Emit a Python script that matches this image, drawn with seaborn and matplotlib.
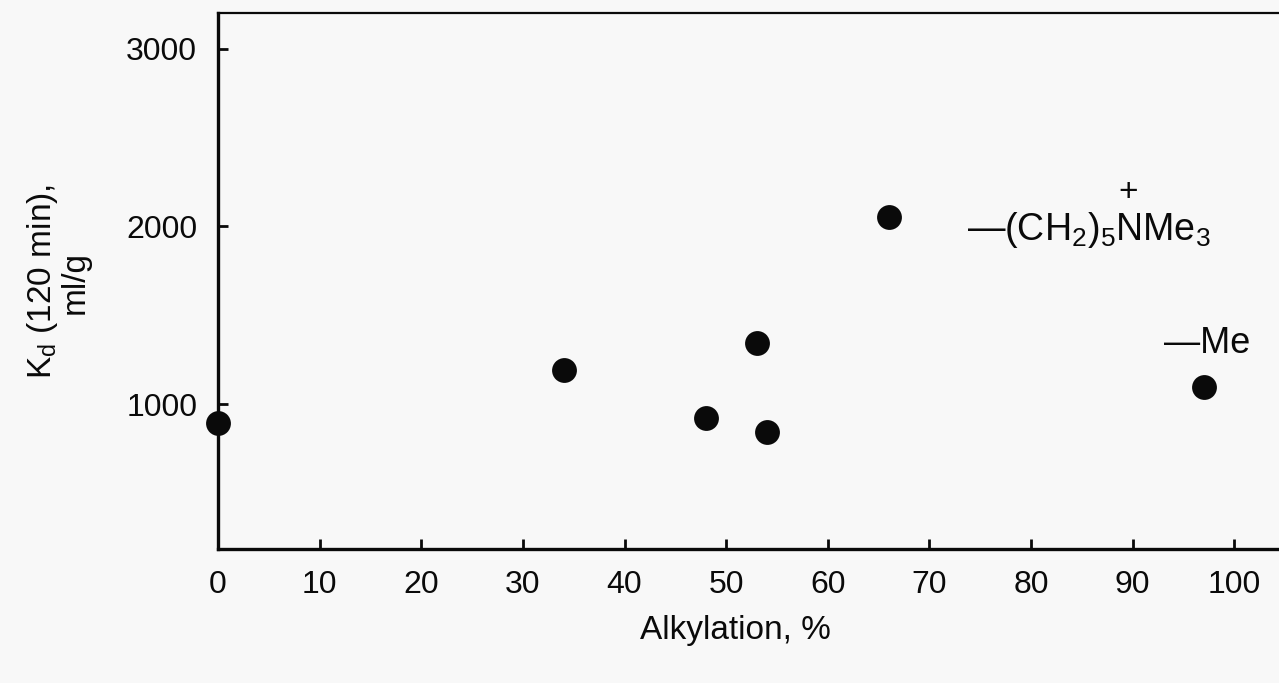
import numpy as np
import pandas as pd
import matplotlib
matplotlib.use("Agg")
import matplotlib.pyplot as plt
import seaborn as sns

# ── Data ─────────────────────────────────────────────────────
alkylation = [0, 34, 48, 53, 54, 66, 97]
kd_values = [893, 1191, 921, 1343, 843, 2051, 1096]

df = pd.DataFrame({"alk": alkylation, "kd": kd_values})

# ── Style ────────────────────────────────────────────────────
BG = "#f8f8f8"
INK = "#0a0a0a"
sns.set_style("ticks")
plt.rcParams.update({
    "font.family": ["Liberation Sans", "DejaVu Sans"],
    "mathtext.fontset": "custom",
    "mathtext.rm": "Liberation Sans",
    "mathtext.it": "Liberation Sans",
    "mathtext.bf": "Liberation Sans",
    "text.color": INK,
    "axes.edgecolor": INK,
    "xtick.color": INK,
    "ytick.color": INK,
})

fig = plt.figure(figsize=(12.79, 6.83), dpi=100)
fig.patch.set_facecolor(BG)
ax = fig.add_axes([218 / 1279, 1 - 549 / 683, 1 - 218 / 1279, (549 - 13) / 683])
ax.set_facecolor(BG)

sns.scatterplot(data=df, x="alk", y="kd", ax=ax, s=320, color=INK,
                edgecolor=INK, linewidth=0, zorder=3, clip_on=False)

ax.set_xlim(0, 104.4)
ax.set_ylim(185, 3200)
ax.set_xticks(np.arange(0, 101, 10))
ax.set_yticks([1000, 2000, 3000])

ax.tick_params(direction="in", length=7, width=2, labelsize=23, pad=15,
               colors=INK)
for side in ["left", "bottom"]:
    ax.spines[side].set_linewidth(2.4)
ax.spines["top"].set_linewidth(1.6)
ax.spines["top"].set_visible(True)
ax.spines["right"].set_visible(False)

ax.set_xlabel("")
ax.set_ylabel("")
fig.text(735 / 1279, 1 - 630 / 683, "Alkylation, %", ha="center", va="center",
         fontsize=24)
fig.text(58 / 1279, 1 - 282 / 683, "K$_d$ (120 min),\nml/g", ha="center",
         va="center", rotation=90, fontsize=24, linespacing=1.0)

# chemical labels
ax.text(73.7, 1977, "\u2014(CH$_2$)$_5$NMe$_3$", ha="left", va="center",
        fontsize=27)
ax.text(89.6, 2190, "+", ha="center", va="center", fontsize=24)
ax.text(93.1, 1343, "\u2014Me", ha="left", va="center", fontsize=26)

plt.savefig("out.png", dpi=100, facecolor=BG)
plt.close()
